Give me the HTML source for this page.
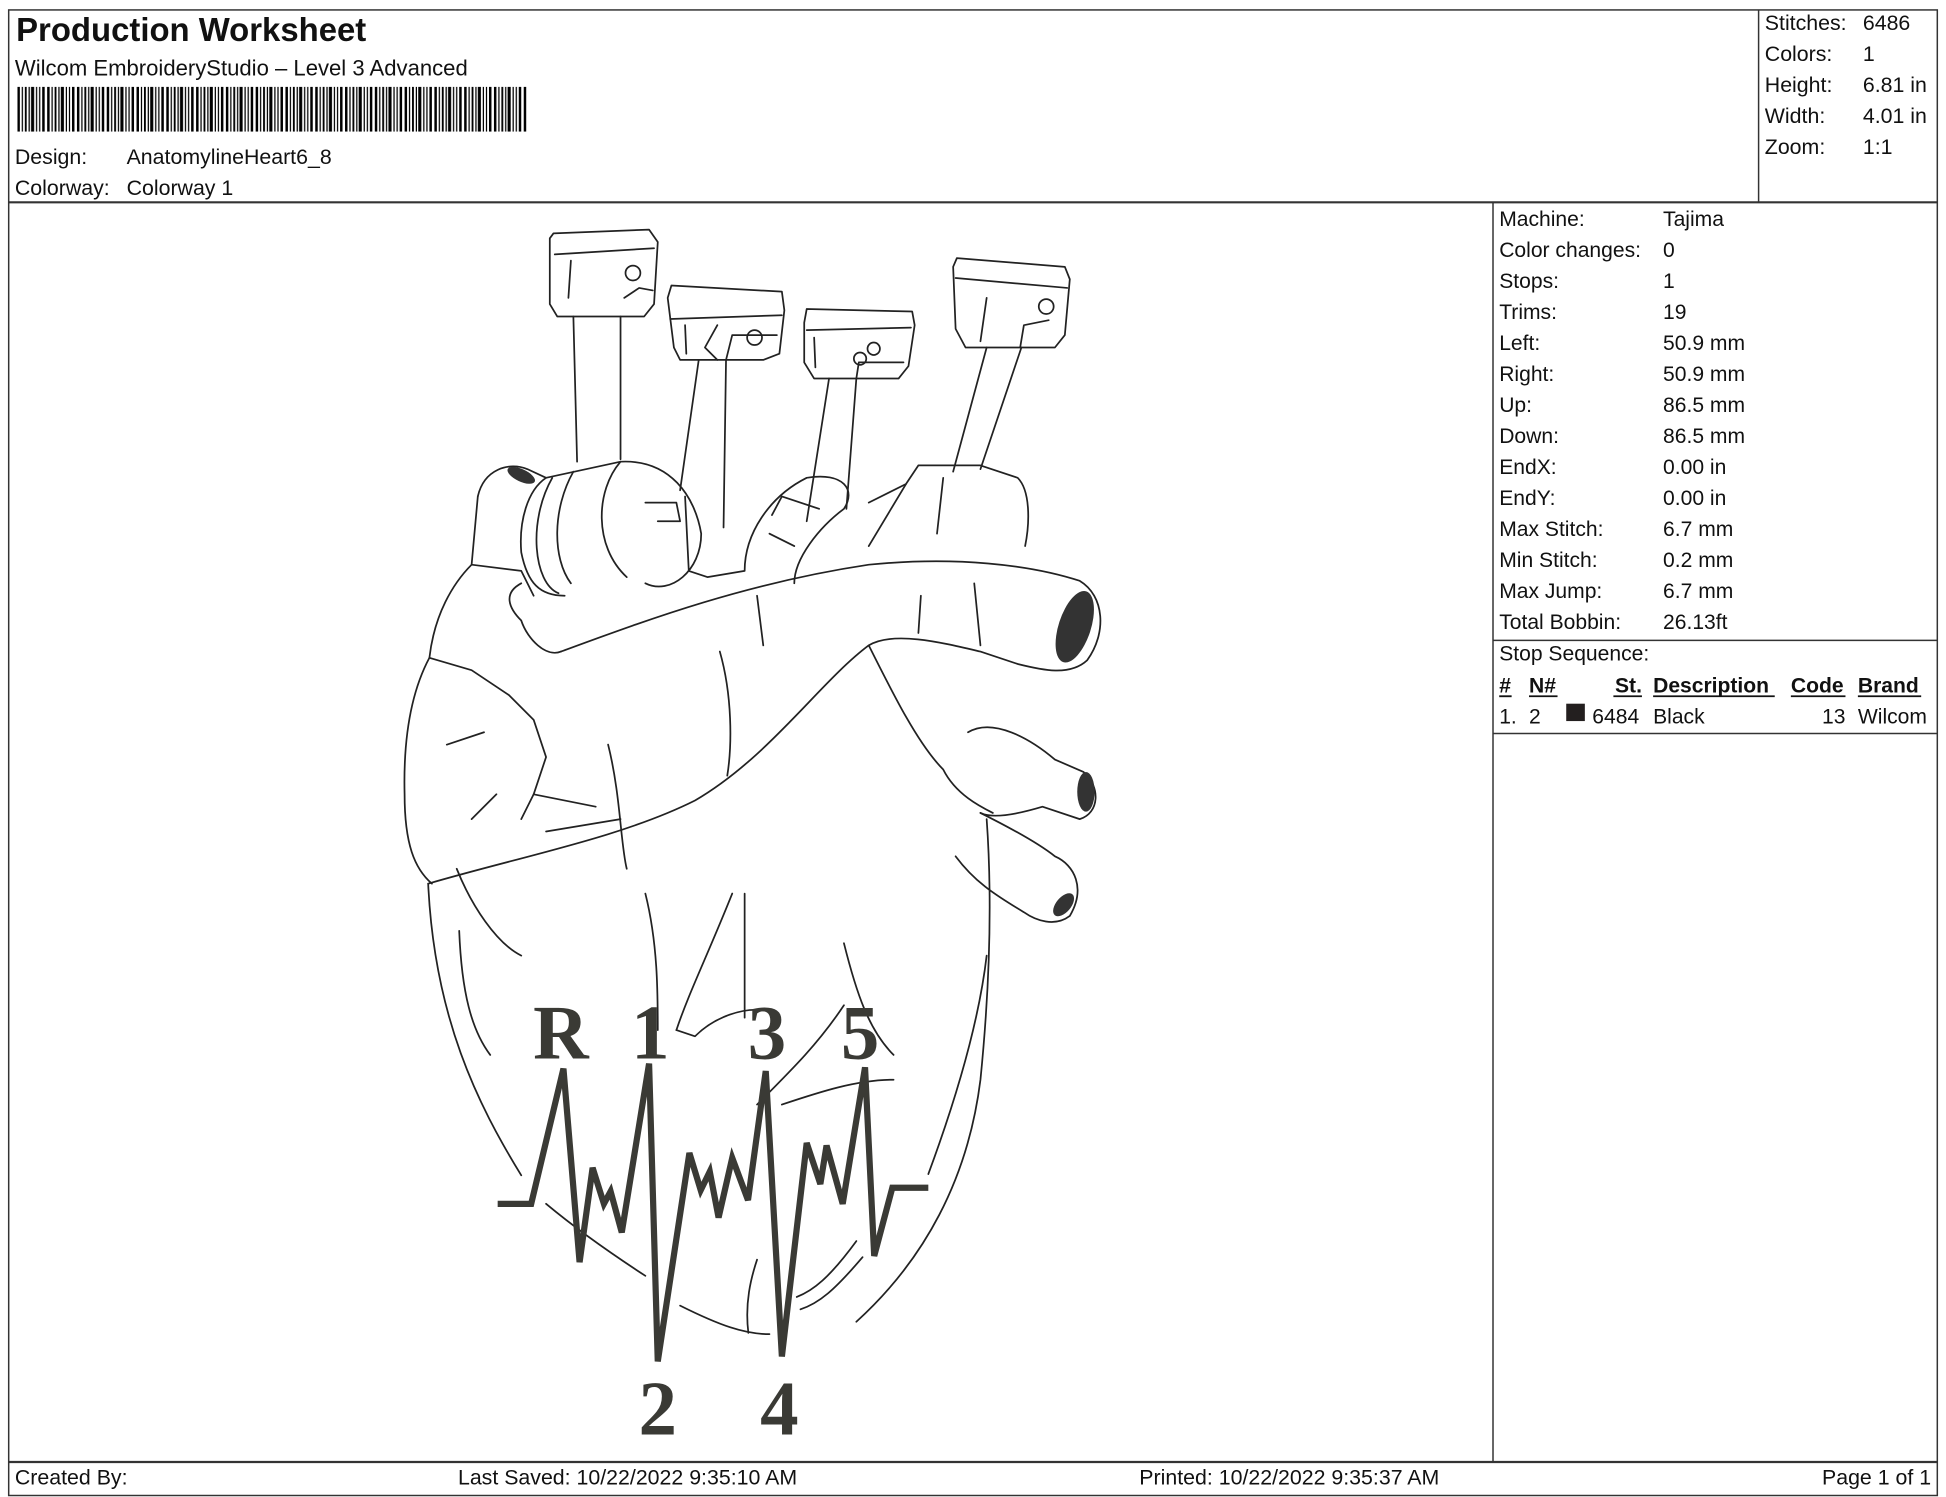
<!DOCTYPE html>
<html><head><meta charset="utf-8"><style>
html,body{margin:0;padding:0;background:#fff;}
svg{display:block;}
.s{font-family:"Liberation Sans",Arial,sans-serif;fill:#111;}
.n{font-family:"Liberation Serif",serif;font-weight:bold;fill:#3a3a35;}
</style></head><body>
<svg width="1946" height="1497" viewBox="0 0 1568 1206.2" xmlns="http://www.w3.org/2000/svg">
<defs>
<pattern id="bc" x="14" y="0" width="24" height="10" patternUnits="userSpaceOnUse">
<rect x="0" y="0" width="2" height="10" fill="#000"/><rect x="3.5" y="0" width="1" height="10" fill="#000"/>
<rect x="6" y="0" width="1.5" height="10" fill="#000"/><rect x="9" y="0" width="1" height="10" fill="#000"/>
<rect x="11" y="0" width="2.5" height="10" fill="#000"/><rect x="15" y="0" width="1" height="10" fill="#000"/>
<rect x="17.5" y="0" width="1" height="10" fill="#000"/><rect x="20" y="0" width="2" height="10" fill="#000"/>
</pattern>
</defs>
<rect x="0" y="0" width="1568" height="1207" fill="#fff"/>
<g stroke="#333" stroke-width="1.2" fill="none">
<rect x="7" y="8" width="1554" height="1197"/>
<line x1="7" y1="163" x2="1561" y2="163" stroke-width="1.8"/>
<line x1="1417" y1="8" x2="1417" y2="163"/>
<line x1="1203" y1="163" x2="1203" y2="1178"/>
<line x1="7" y1="1178" x2="1561" y2="1178" stroke-width="1.8"/>
<line x1="1203" y1="516" x2="1561" y2="516"/>
<line x1="1203" y1="591" x2="1561" y2="591"/>
</g>
<text class="s" x="13" y="33" font-size="26.5" font-weight="bold">Production Worksheet</text>
<text class="s" x="12" y="61" font-size="17.8">Wilcom EmbroideryStudio – Level 3 Advanced</text>
<rect x="14" y="70" width="411" height="36" fill="url(#bc)"/>
<g class="s" font-size="17.2">
<text class="s" x="12" y="132">Design:</text><text class="s" x="102" y="132">AnatomylineHeart6_8</text>
<text class="s" x="12" y="157">Colorway:</text><text class="s" x="102" y="157">Colorway 1</text>
<text class="s" x="1422" y="24">Stitches:</text><text class="s" x="1501" y="24">6486</text>
<text class="s" x="1422" y="49">Colors:</text><text class="s" x="1501" y="49">1</text>
<text class="s" x="1422" y="74">Height:</text><text class="s" x="1501" y="74">6.81 in</text>
<text class="s" x="1422" y="99">Width:</text><text class="s" x="1501" y="99">4.01 in</text>
<text class="s" x="1422" y="124">Zoom:</text><text class="s" x="1501" y="124">1:1</text>
</g>
<g font-size="17">
<text class="s" x="1208" y="182">Machine:</text><text class="s" x="1340" y="182">Tajima</text>
<text class="s" x="1208" y="207">Color changes:</text><text class="s" x="1340" y="207">0</text>
<text class="s" x="1208" y="232">Stops:</text><text class="s" x="1340" y="232">1</text>
<text class="s" x="1208" y="257">Trims:</text><text class="s" x="1340" y="257">19</text>
<text class="s" x="1208" y="282">Left:</text><text class="s" x="1340" y="282">50.9 mm</text>
<text class="s" x="1208" y="307">Right:</text><text class="s" x="1340" y="307">50.9 mm</text>
<text class="s" x="1208" y="332">Up:</text><text class="s" x="1340" y="332">86.5 mm</text>
<text class="s" x="1208" y="357">Down:</text><text class="s" x="1340" y="357">86.5 mm</text>
<text class="s" x="1208" y="382">EndX:</text><text class="s" x="1340" y="382">0.00 in</text>
<text class="s" x="1208" y="407">EndY:</text><text class="s" x="1340" y="407">0.00 in</text>
<text class="s" x="1208" y="432">Max Stitch:</text><text class="s" x="1340" y="432">6.7 mm</text>
<text class="s" x="1208" y="457">Min Stitch:</text><text class="s" x="1340" y="457">0.2 mm</text>
<text class="s" x="1208" y="482">Max Jump:</text><text class="s" x="1340" y="482">6.7 mm</text>
<text class="s" x="1208" y="507">Total Bobbin:</text><text class="s" x="1340" y="507">26.13ft</text>
<text class="s" x="1208" y="532">Stop Sequence:</text>
<g font-weight="bold">
<text class="s" x="1208" y="558">#</text><text class="s" x="1232" y="558">N#</text>
<text class="s" x="1323" y="558" text-anchor="end">St.</text><text class="s" x="1332" y="558">Description</text>
<text class="s" x="1443" y="558">Code</text><text class="s" x="1497" y="558">Brand</text>
</g>
<g stroke="#111" stroke-width="1.5">
<line x1="1208" y1="561" x2="1218" y2="561"/><line x1="1232" y1="561" x2="1255" y2="561"/>
<line x1="1300" y1="561" x2="1323" y2="561"/><line x1="1332" y1="561" x2="1430" y2="561"/>
<line x1="1443" y1="561" x2="1487" y2="561"/><line x1="1497" y1="561" x2="1548" y2="561"/>
</g>
<text class="s" x="1208" y="583">1.</text><text class="s" x="1232" y="583">2</text>
<rect x="1262" y="567" width="15" height="14" fill="#231f1f"/>
<text class="s" x="1283" y="583">6484</text><text class="s" x="1332" y="583">Black</text>
<text class="s" x="1487" y="583" text-anchor="end">13</text><text class="s" x="1497" y="583">Wilcom</text>
</g>
<g font-size="17.2">
<text class="s" x="12" y="1196">Created By:</text>
<text class="s" x="369" y="1196">Last Saved: 10/22/2022 9:35:10 AM</text>
<text class="s" x="918" y="1196">Printed: 10/22/2022 9:35:37 AM</text>
<text class="s" x="1556" y="1196" text-anchor="end">Page 1 of 1</text>
</g>
<g stroke="#222" stroke-width="1.4" fill="none" stroke-linejoin="round" stroke-linecap="round">
<path d="M443,192 L446,188 L523,185 L530,195 L527,245 L519,255 L449,255 L443,245 Z"/>
<path d="M447,205 L527,200 M460,210 L458,240 M503,240 L515,232 L526,234"/>
<circle cx="510" cy="220" r="6"/>
<path d="M462,255 L465,372 M500,255 L500,370"/>
<path d="M538,240 L541,230 L630,235 L632,250 L628,285 L615,290 L548,290 L543,280 Z"/>
<path d="M540,257 L630,254 M552,262 L553,285 M578,262 L568,280 L578,290 M585,290 L590,270 L626,270"/>
<circle cx="608" cy="272" r="6"/>
<path d="M563,290 L548,395 M585,290 L583,425"/>
<path d="M648,260 L650,249 L735,251 L737,262 L732,295 L724,305 L656,305 L648,292 Z"/>
<path d="M650,266 L734,264 M656,272 L657,296 M690,305 L692,292 L728,292"/>
<circle cx="693" cy="289" r="5"/><circle cx="704" cy="281" r="5"/>
<path d="M668,305 L650,420 M690,305 L682,410"/>
<path d="M768,215 L771,208 L858,215 L862,225 L858,270 L850,280 L778,280 L770,265 Z"/>
<path d="M770,224 L860,232 M795,240 L790,275 M822,280 L825,262 L845,258"/>
<circle cx="843" cy="247" r="6"/>
<path d="M795,280 L768,380 M823,280 L790,378"/>
<path d="M385,400 C390,378 410,372 425,378 L440,385 C425,395 418,420 420,445 C425,470 435,480 455,480"/>
<path d="M440,385 L500,372 C540,370 560,400 565,430 C565,460 540,480 520,470"/>
<path d="M445,385 C425,420 430,470 450,478 M462,380 C445,410 445,450 460,470"/>
<path d="M500,372 C480,395 478,440 505,465 M520,405 L545,405 L548,420 L530,420"/>
<path d="M552,400 L555,460 L570,465 L600,460 C600,430 620,400 650,385 C680,380 690,395 680,410 C660,425 640,450 640,470"/>
<path d="M622,415 L630,400 L660,410 M620,430 L640,440"/>
<path d="M700,405 L730,390 L740,375 L790,375 L820,385 C830,395 830,420 826,440"/>
<path d="M730,390 L718,410 L700,440 M760,385 L755,430"/>
<path d="M385,400 L380,455 C365,470 350,495 346,530 C330,560 325,600 326,640 C326,680 334,700 348,712"/>
<path d="M380,455 L420,460 L430,480 M346,530 L380,540 L410,560 L430,580 L440,610 L430,640 L420,660"/>
<path d="M452,525 C520,500 600,470 700,455 C770,448 830,455 870,468 C890,480 892,510 876,532 C862,545 840,540 820,535 L790,525 C760,518 720,508 700,520 C660,550 620,610 560,645 C500,675 420,690 345,712"/>
<path d="M452,525 C440,530 425,515 420,500 C410,490 405,478 420,470"/>
<ellipse cx="866" cy="505" rx="13" ry="30" transform="rotate(18 866 505)" fill="#333" stroke="none"/>
<ellipse cx="420" cy="383" rx="12" ry="5" transform="rotate(25 420 383)" fill="#333" stroke="none"/>
<path d="M785,470 L790,520 M740,510 L742,480 M610,480 L615,520 M580,525 C590,560 590,600 586,625"/>
<path d="M700,520 C720,560 740,600 760,620 C770,640 790,650 800,655"/>
<path d="M780,590 C800,578 830,595 850,612 L873,622 C887,634 886,655 870,660 L840,650 C820,656 800,660 790,655"/>
<ellipse cx="875" cy="638" rx="7" ry="16" fill="#333" stroke="none"/>
<path d="M790,655 C810,665 835,678 850,690 C866,697 875,716 862,738 C850,747 835,742 825,735 C800,720 785,710 770,690"/>
<ellipse cx="857" cy="729" rx="6" ry="11" transform="rotate(40 857 729)" fill="#333" stroke="none"/>
<path d="M795,660 C800,730 797,800 790,870 C780,950 745,1015 690,1065"/>
<path d="M345,712 C350,820 385,890 420,947"/>
<path d="M370,750 C372,800 380,830 395,850 M368,700 C380,730 400,760 420,770"/>
<path d="M440,970 C470,995 500,1015 520,1028 M548,1052 C580,1068 600,1075 620,1075"/>
<path d="M748,946 C765,900 788,830 795,770"/>
<path d="M695,1013 C672,1040 660,1050 645,1055 M690,1000 C668,1030 655,1040 642,1045"/>
<path d="M603,1074 C600,1050 605,1030 610,1015"/>
<path d="M590,720 C570,770 555,800 545,830 M520,720 C530,760 530,800 530,830 M490,600 C500,640 500,680 505,700"/>
<path d="M600,720 C600,760 600,790 600,820 M680,760 C690,800 700,830 720,850"/>
<path d="M610,890 C640,860 660,840 680,810 M630,890 C660,880 690,870 720,870"/>
<path d="M545,830 L560,835 C575,820 600,810 620,815"/>
<path d="M430,640 L480,650 M440,670 L500,660 M400,640 L380,660 M360,600 L390,590"/>
</g>
<polyline fill="none" stroke="#3a3a35" stroke-width="5" stroke-linejoin="miter" points="401,970 428,970 454,861 467,1017 477.5,941 486.6,970 492,960 501,993 523,857 530,1097 555.5,929 564.6,959 571.9,944 579,981 590,933 602.7,967 617,863 630,1093 650,921 661,954 666,923 679,970 697,860 704.4,1012 719,957 748,957"/>
<g font-size="62" text-anchor="middle">
<text class="n" x="452" y="853">R</text><text class="n" x="524" y="853">1</text><text class="n" x="618" y="853">3</text><text class="n" x="693" y="853">5</text>
<text class="n" x="530" y="1156">2</text><text class="n" x="628" y="1156">4</text>
</g>
</svg>
</body></html>
